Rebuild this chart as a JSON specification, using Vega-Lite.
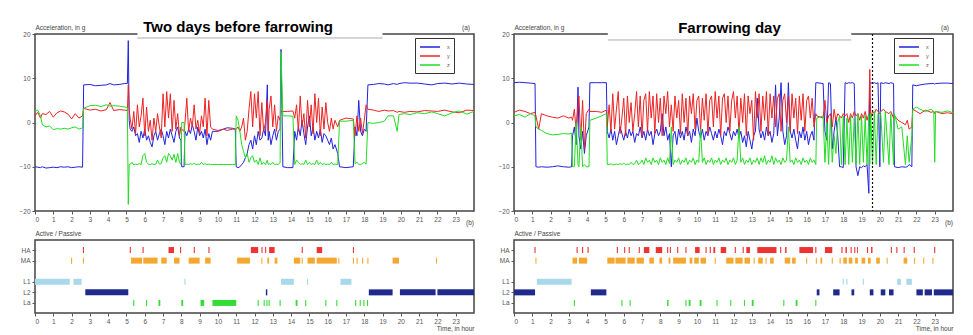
{
"$schema": "https://vega.github.io/schema/vega-lite/v6.json",
"background": "white",
"padding": {"left": 18, "top": 13, "right": 5, "bottom": 2},
"config": {
 "font": "Liberation Sans",
 "view": {"stroke": "#444", "strokeWidth": 1.5},
 "axis": {"labelFontSize": 6.5, "labelColor": "#555", "tickColor": "#555", "tickSize": 3, "domain": false, "grid": false, "labelPadding": 2, "titleFontSize": 6.5, "titleFontWeight": "normal", "titleColor": "#444"},
 "title": {"fontSize": 6.5, "fontWeight": "normal", "color": "#444", "anchor": "end", "offset": 4, "frame": "group"},
 "legend": {"orient": "none", "legendX": 380, "legendY": 4, "strokeColor": "#333", "fillColor": "white", "padding": 4, "symbolType": "M-2.35,0H2.35", "symbolSize": 72, "symbolOffset": 6, "symbolStrokeWidth": 1.5, "labelFontSize": 5.5, "labelColor": "#555", "labelOffset": 12, "rowPadding": 0, "title": null}
},
"datasets": {
 "accL": [
  {"t":0,"x":-10,"y":1.5,"z":2.5},{"t":0.15,"x":-10.1,"y":2.3,"z":2.8},{"t":0.3,"x":-10.2,"y":1.0,"z":1.5},{"t":0.4,"x":-10,"y":2.0,"z":-0.5},
  {"t":0.6,"x":-10.3,"y":1.8,"z":-1.0},{"t":0.8,"x":-10.2,"y":2.5,"z":-0.8},{"t":1.0,"x":-10.1,"y":1.2,"z":-1.6},{"t":1.2,"x":-10.2,"y":2.2,"z":-1.4},
  {"t":1.4,"x":-10,"y":2.6,"z":-1.5},{"t":1.6,"x":-10.1,"y":2.4,"z":-1.3},{"t":1.8,"x":-10,"y":1.9,"z":-1.5},{"t":2.0,"x":-10.2,"y":0.8,"z":-1.2},
  {"t":2.2,"x":-10.1,"y":2.0,"z":-1.0},{"t":2.4,"x":-10,"y":1.0,"z":-1.5},{"t":2.6,"x":-10.1,"y":1.5,"z":-1.2},{"t":2.66,"x":8.5,"y":3.2,"z":3.2},
  {"t":3.0,"x":8.6,"y":2.8,"z":3.8},{"t":3.3,"x":8.3,"y":3.0,"z":3.9},{"t":3.6,"x":8.4,"y":2.6,"z":3.6},{"t":3.9,"x":8.5,"y":2.9,"z":4.0},
  {"t":4.1,"x":8.8,"y":4.5,"z":3.7},{"t":4.3,"x":8.5,"y":2.7,"z":3.8},{"t":4.6,"x":8.6,"y":2.9,"z":3.7},{"t":4.9,"x":8.8,"y":2.8,"z":3.5},
  {"t":5.05,"x":8.8,"y":2.7,"z":3.4},{"t":5.1,"x":18.5,"y":8.5,"z":-18.5},{"t":5.15,"x":0.5,"y":3,"z":-9.5},{"t":5.2,"x":-1.5,"y":1,"z":-9.5},
  {"t":5.3,"x":-2.0,"y":-1.5,"z":-9.0},{"t":5.4,"x":-1.0,"y":2.5,"z":-9.6},{"t":5.5,"x":-3.0,"y":-2.5,"z":-9.4},{"t":5.6,"x":-2.5,"y":4.0,"z":-9.5},
  {"t":5.7,"x":-4.5,"y":-1.0,"z":-9.3},{"t":5.8,"x":-2.0,"y":1.5,"z":-9.5},{"t":5.9,"x":-3.5,"y":5.5,"z":-7.5},{"t":6.0,"x":-1.5,"y":-3.0,"z":-7.0},
  {"t":6.1,"x":-4.0,"y":3.5,"z":-9.0},{"t":6.2,"x":-3.0,"y":-2.0,"z":-9.4},{"t":6.3,"x":-4.5,"y":0.5,"z":-9.5},{"t":6.4,"x":-5.5,"y":-4.0,"z":-9.3},
  {"t":6.5,"x":-3.0,"y":1.0,"z":-9.5},{"t":6.6,"x":-2.0,"y":-2.0,"z":-9.4},{"t":6.7,"x":-4.0,"y":2.0,"z":-8.5},{"t":6.8,"x":-2.5,"y":-1.0,"z":-9.4},
  {"t":6.9,"x":-1.5,"y":-3.5,"z":-9.3},{"t":7.0,"x":-3.0,"y":6.5,"z":-8.0},{"t":7.1,"x":-5.0,"y":-1.0,"z":-7.5},{"t":7.2,"x":-2.0,"y":7.0,"z":-9.0},
  {"t":7.3,"x":-3.5,"y":1.0,"z":-7.0},{"t":7.4,"x":-1.5,"y":6.5,"z":-7.5},{"t":7.5,"x":-3.0,"y":-2.0,"z":-8.5},{"t":7.6,"x":-4.5,"y":5.0,"z":-7.2},
  {"t":7.7,"x":-2.0,"y":-1.5,"z":-9.0},{"t":7.8,"x":-1.0,"y":2.0,"z":-7.0},{"t":7.9,"x":-3.5,"y":-3.0,"z":-9.0},{"t":7.98,"x":-4.0,"y":-1.0,"z":-9.5},
  {"t":8.02,"x":-10.0,"y":-1.5,"z":0.0},{"t":8.15,"x":-10.0,"y":-2.0,"z":0.0},{"t":8.2,"x":-2.0,"y":0.0,"z":-9.5},{"t":8.3,"x":-3.0,"y":5.5,"z":-9.4},
  {"t":8.4,"x":-1.5,"y":-2.0,"z":-9.5},{"t":8.5,"x":-2.5,"y":1.0,"z":-9.3},{"t":8.6,"x":-0.5,"y":-1.0,"z":-9.5},{"t":8.7,"x":-2.0,"y":4.0,"z":-9.2},
  {"t":8.8,"x":-4.0,"y":-1.5,"z":-9.5},{"t":8.9,"x":-1.0,"y":0.5,"z":-9.4},{"t":9.0,"x":-3.0,"y":-2.5,"z":-9.5},{"t":9.1,"x":-2.0,"y":1.5,"z":-9.0},
  {"t":9.2,"x":-3.5,"y":-1.0,"z":-9.5},{"t":9.3,"x":-1.5,"y":5.5,"z":-9.3},{"t":9.4,"x":-5.0,"y":-3.0,"z":-9.5},{"t":9.5,"x":-2.5,"y":5.0,"z":-9.4},
  {"t":9.6,"x":-4.0,"y":-1.0,"z":-9.5},{"t":9.7,"x":-2.0,"y":-1.5,"z":-9.5},{"t":10.0,"x":-2.0,"y":-1.8,"z":-9.5},{"t":10.3,"x":-1.5,"y":-1.5,"z":-9.5},
  {"t":10.5,"x":-1.2,"y":-1.8,"z":-9.5},{"t":10.8,"x":-1.3,"y":-1.5,"z":-9.5},{"t":10.95,"x":-1.5,"y":-1.5,"z":-9.5},{"t":11.0,"x":-10.0,"y":-1.5,"z":1.5},
  {"t":11.1,"x":-10.2,"y":-1.0,"z":0.5},{"t":11.2,"x":-10.0,"y":-2.0,"z":-2.0},{"t":11.3,"x":-9.5,"y":-1.0,"z":-5.0},{"t":11.4,"x":-9.0,"y":1.0,"z":-6.5},
  {"t":11.5,"x":-8.0,"y":-4.0,"z":-8.0},{"t":11.6,"x":-7.0,"y":-2.0,"z":-7.0},{"t":11.7,"x":-5.0,"y":3.0,"z":-9.0},{"t":11.8,"x":-4.0,"y":7.0,"z":-8.0},
  {"t":11.9,"x":-6.0,"y":-1.0,"z":-7.5},{"t":12.0,"x":-3.0,"y":6.5,"z":-9.0},{"t":12.1,"x":-5.0,"y":1.0,"z":-8.5},{"t":12.2,"x":-2.0,"y":7.0,"z":-9.5},
  {"t":12.3,"x":-4.0,"y":-3.0,"z":-8.0},{"t":12.4,"x":-3.5,"y":4.5,"z":-9.5},{"t":12.5,"x":-1.5,"y":-2.0,"z":-9.0},{"t":12.6,"x":-3.0,"y":0.0,"z":-9.5},
  {"t":12.7,"x":8.5,"y":5.0,"z":-8.5},{"t":12.75,"x":-4.0,"y":-2.0,"z":-9.5},{"t":12.8,"x":-2.0,"y":3.0,"z":-9.3},{"t":12.9,"x":-5.0,"y":6.0,"z":-9.5},
  {"t":13.0,"x":-3.0,"y":-1.0,"z":-9.0},{"t":13.1,"x":-1.5,"y":4.0,"z":-9.5},{"t":13.2,"x":-4.0,"y":-2.0,"z":-9.4},{"t":13.3,"x":-2.0,"y":1.5,"z":-9.5},
  {"t":13.4,"x":-1.5,"y":0.5,"z":-9.0},{"t":13.45,"x":16.5,"y":2.5,"z":16.0},{"t":13.55,"x":-10.0,"y":2.5,"z":1.5},{"t":13.8,"x":-10.2,"y":2.5,"z":1.5},
  {"t":14.1,"x":-10.2,"y":2.6,"z":1.4},{"t":14.2,"x":-2.0,"y":1.0,"z":-9.5},{"t":14.3,"x":-4.0,"y":4.0,"z":-8.5},{"t":14.4,"x":-1.0,"y":-2.0,"z":-9.0},
  {"t":14.5,"x":-3.0,"y":6.0,"z":-9.5},{"t":14.6,"x":0.5,"y":-1.0,"z":-9.3},{"t":14.7,"x":-2.5,"y":2.0,"z":-9.5},{"t":14.8,"x":-5.0,"y":-3.5,"z":-8.5},
  {"t":14.9,"x":-1.0,"y":5.0,"z":-9.5},{"t":15.0,"x":1.5,"y":-1.0,"z":-9.0},{"t":15.1,"x":-3.0,"y":4.0,"z":-9.5},{"t":15.2,"x":-1.0,"y":-2.5,"z":-9.3},
  {"t":15.3,"x":-4.0,"y":6.5,"z":-9.5},{"t":15.4,"x":-2.0,"y":0.0,"z":-8.5},{"t":15.5,"x":-3.5,"y":5.5,"z":-9.5},{"t":15.6,"x":-1.5,"y":-3.0,"z":-9.0},
  {"t":15.7,"x":-4.5,"y":3.5,"z":-9.5},{"t":15.8,"x":-2.5,"y":-1.5,"z":-9.3},{"t":15.9,"x":-3.0,"y":4.5,"z":-9.5},{"t":16.0,"x":-4.0,"y":0.0,"z":-9.4},
  {"t":16.1,"x":-5.0,"y":-2.0,"z":-9.5},{"t":16.2,"x":-3.5,"y":1.0,"z":-9.0},{"t":16.3,"x":-6.0,"y":-1.5,"z":-9.5},{"t":16.4,"x":-5.0,"y":0.5,"z":-9.4},
  {"t":16.55,"x":-7.0,"y":-1.0,"z":-9.5},{"t":16.65,"x":-10.0,"y":0.5,"z":0.3},{"t":17.0,"x":-10.2,"y":1.0,"z":0.3},{"t":17.4,"x":-10.0,"y":0.8,"z":0.5},
  {"t":17.5,"x":-1.0,"y":-3.0,"z":-9.3},{"t":17.6,"x":-3.0,"y":1.5,"z":-9.0},{"t":17.7,"x":5.0,"y":-2.0,"z":-9.4},{"t":17.8,"x":-2.0,"y":1.0,"z":-9.5},
  {"t":17.9,"x":-3.0,"y":-2.5,"z":-9.3},{"t":18.0,"x":-1.5,"y":0.5,"z":-9.0},{"t":18.1,"x":-2.0,"y":4.0,"z":-9.4},{"t":18.2,"x":8.5,"y":3.0,"z":0.0},
  {"t":18.5,"x":8.6,"y":2.8,"z":-0.2},{"t":18.8,"x":8.8,"y":2.5,"z":0.0},{"t":19.1,"x":8.7,"y":2.8,"z":0.3},{"t":19.3,"x":8.5,"y":2.6,"z":1.5},
  {"t":19.6,"x":8.8,"y":2.7,"z":1.5},{"t":19.8,"x":8.6,"y":2.3,"z":-2.0},{"t":19.9,"x":8.8,"y":2.5,"z":1.8},{"t":20.2,"x":9.0,"y":2.3,"z":2.0},
  {"t":20.5,"x":8.9,"y":2.5,"z":1.8},{"t":20.9,"x":8.9,"y":2.4,"z":2.2},{"t":21.3,"x":8.7,"y":2.7,"z":2.0},{"t":21.7,"x":8.5,"y":2.6,"z":2.4},
  {"t":22.0,"x":8.8,"y":2.5,"z":2.0},{"t":22.4,"x":8.9,"y":2.8,"z":1.5},{"t":22.8,"x":8.7,"y":2.4,"z":2.2},{"t":23.2,"x":8.9,"y":2.2,"z":2.6},
  {"t":23.6,"x":8.7,"y":2.8,"z":1.9},{"t":24.0,"x":8.6,"y":2.7,"z":2.5}
 ],
 "accR": [
  {"t":0,"x":9.0,"y":2.3,"z":1.5},{"t":0.3,"x":9.1,"y":2.8,"z":1.8},{"t":0.6,"x":9.0,"y":2.5,"z":1.2},{"t":0.9,"x":8.9,"y":2.0,"z":2.0},
  {"t":1.15,"x":8.8,"y":2.3,"z":1.5},{"t":1.2,"x":-10.0,"y":1.5,"z":-1.0},{"t":1.35,"x":-10.1,"y":-1.5,"z":-1.5},{"t":1.5,"x":-10.0,"y":2.0,"z":-1.8},
  {"t":1.8,"x":-10.1,"y":1.5,"z":-2.5},{"t":2.1,"x":-10.0,"y":1.2,"z":-2.8},{"t":2.4,"x":-9.8,"y":1.0,"z":-2.7},{"t":2.7,"x":-10.0,"y":1.5,"z":-2.5},
  {"t":3.0,"x":-10.1,"y":1.0,"z":-2.6},{"t":3.15,"x":-10.0,"y":1.2,"z":-2.4},{"t":3.2,"x":-3.0,"y":0.5,"z":-10.0},{"t":3.3,"x":-1.0,"y":3.0,"z":-10.0},
  {"t":3.4,"x":-5.0,"y":-2.0,"z":0.0},{"t":3.5,"x":8.0,"y":4.0,"z":-9.5},{"t":3.55,"x":-3.0,"y":6.0,"z":-10.0},{"t":3.65,"x":-6.0,"y":-4.0,"z":-1.0},
  {"t":3.75,"x":-2.0,"y":5.0,"z":-10.0},{"t":3.85,"x":-7.0,"y":-6.0,"z":-9.5},{"t":3.95,"x":-3.0,"y":2.0,"z":-10.0},{"t":4.1,"x":-1.0,"y":3.0,"z":-10.0},
  {"t":4.15,"x":9.0,"y":2.5,"z":0.5},{"t":4.5,"x":9.0,"y":2.5,"z":1.0},{"t":4.8,"x":9.0,"y":2.3,"z":1.5},{"t":5.05,"x":9.0,"y":2.8,"z":2.0},
  {"t":5.1,"x":-2.0,"y":-1.0,"z":-9.5},{"t":5.2,"x":-3.5,"y":4.0,"z":-9.5},{"t":5.3,"x":-1.5,"y":-2.0,"z":-9.3},{"t":5.4,"x":-4.0,"y":6.5,"z":-9.6},
  {"t":5.5,"x":-2.0,"y":-1.5,"z":-9.5},{"t":5.6,"x":-5.0,"y":3.0,"z":-9.4},{"t":5.7,"x":-3.0,"y":7.0,"z":-9.5},{"t":5.8,"x":-1.0,"y":-2.5,"z":-9.3},
  {"t":5.9,"x":-2.5,"y":1.0,"z":-9.5},{"t":6.0,"x":-4.0,"y":5.5,"z":-9.2},{"t":6.1,"x":-2.0,"y":-3.0,"z":-9.5},{"t":6.2,"x":-3.5,"y":6.0,"z":-9.4},
  {"t":6.3,"x":-1.5,"y":0.0,"z":-9.5},{"t":6.4,"x":-3.0,"y":4.5,"z":-9.0},{"t":6.5,"x":-2.0,"y":-2.0,"z":-9.5},{"t":6.6,"x":-4.5,"y":2.0,"z":-9.3},
  {"t":6.7,"x":-2.5,"y":7.0,"z":-8.5},{"t":6.8,"x":-3.0,"y":-1.0,"z":-9.5},{"t":6.9,"x":-1.0,"y":6.0,"z":-9.2},{"t":7.0,"x":-3.5,"y":-3.0,"z":-8.5},
  {"t":7.1,"x":-2.0,"y":5.0,"z":-9.5},{"t":7.2,"x":-4.0,"y":6.5,"z":-8.0},{"t":7.3,"x":-1.5,"y":-2.0,"z":-9.0},{"t":7.4,"x":-3.0,"y":7.0,"z":-8.5},
  {"t":7.5,"x":-2.0,"y":1.0,"z":-9.5},{"t":7.6,"x":-5.0,"y":6.0,"z":-8.0},{"t":7.7,"x":-2.5,"y":-2.5,"z":-9.0},{"t":7.8,"x":-1.5,"y":6.5,"z":-8.5},
  {"t":7.9,"x":-3.0,"y":0.0,"z":-9.5},{"t":8.0,"x":-2.0,"y":5.5,"z":-8.0},{"t":8.1,"x":2.0,"y":-3.0,"z":-9.0},{"t":8.2,"x":-3.0,"y":6.0,"z":-8.5},
  {"t":8.3,"x":-1.0,"y":2.0,"z":-9.5},{"t":8.4,"x":-4.0,"y":7.0,"z":-8.0},{"t":8.5,"x":-2.5,"y":-1.0,"z":-9.3},{"t":8.6,"x":-10.0,"y":4.0,"z":-1.0},
  {"t":8.7,"x":-3.0,"y":-2.0,"z":-9.5},{"t":8.8,"x":-2.0,"y":6.0,"z":-8.5},{"t":8.9,"x":-5.0,"y":1.0,"z":-9.0},{"t":9.0,"x":-1.5,"y":5.0,"z":-8.0},
  {"t":9.1,"x":-3.5,"y":-2.5,"z":-9.5},{"t":9.2,"x":-2.0,"y":6.5,"z":-8.5},{"t":9.3,"x":-4.0,"y":0.0,"z":-9.0},{"t":9.4,"x":-1.0,"y":5.5,"z":-8.0},
  {"t":9.5,"x":-3.0,"y":-3.0,"z":-9.5},{"t":9.6,"x":-2.0,"y":6.0,"z":-8.5},{"t":9.7,"x":-4.5,"y":2.0,"z":-9.0},{"t":9.8,"x":-1.5,"y":6.5,"z":-8.0},
  {"t":9.9,"x":-3.0,"y":-1.5,"z":-9.5},{"t":10.0,"x":1.0,"y":5.0,"z":-8.5},{"t":10.1,"x":-2.0,"y":6.0,"z":-9.0},{"t":10.2,"x":-3.5,"y":-2.0,"z":-1.5},
  {"t":10.3,"x":-1.5,"y":5.5,"z":-9.0},{"t":10.4,"x":-4.0,"y":0.5,"z":-8.0},{"t":10.5,"x":-2.0,"y":6.5,"z":-9.5},{"t":10.6,"x":-3.0,"y":-2.5,"z":-8.5},
  {"t":10.7,"x":-1.0,"y":5.0,"z":-9.0},{"t":10.8,"x":-2.5,"y":6.0,"z":-8.0},{"t":10.9,"x":-4.0,"y":-1.0,"z":-9.5},{"t":11.0,"x":-2.0,"y":7.0,"z":-8.5},
  {"t":11.1,"x":-3.5,"y":1.0,"z":-9.0},{"t":11.2,"x":-1.5,"y":6.0,"z":-8.0},{"t":11.3,"x":-3.0,"y":-3.0,"z":-9.5},{"t":11.4,"x":-5.0,"y":5.5,"z":-8.5},
  {"t":11.5,"x":-2.0,"y":6.5,"z":-9.0},{"t":11.6,"x":-3.0,"y":0.0,"z":-8.0},{"t":11.7,"x":-1.0,"y":6.0,"z":-9.5},{"t":11.8,"x":-2.5,"y":-2.0,"z":-8.5},
  {"t":11.9,"x":-4.0,"y":5.0,"z":-9.0},{"t":12.0,"x":-2.0,"y":7.0,"z":-8.0},{"t":12.1,"x":-3.0,"y":1.0,"z":-9.5},{"t":12.2,"x":-1.5,"y":6.0,"z":-8.5},
  {"t":12.3,"x":-3.5,"y":-2.5,"z":-1.0},{"t":12.4,"x":-2.0,"y":5.5,"z":-9.0},{"t":12.5,"x":-4.5,"y":0.0,"z":-8.0},{"t":12.6,"x":-3.0,"y":6.5,"z":-9.5},
  {"t":12.7,"x":-5.5,"y":-3.0,"z":-8.5},{"t":12.8,"x":-2.0,"y":6.0,"z":-9.0},{"t":12.9,"x":-4.0,"y":2.0,"z":-8.0},{"t":13.0,"x":-6.0,"y":5.0,"z":-9.5},
  {"t":13.1,"x":-3.0,"y":-4.0,"z":-8.5},{"t":13.2,"x":-2.0,"y":7.0,"z":-9.0},{"t":13.3,"x":5.5,"y":1.0,"z":-8.0},{"t":13.4,"x":-1.5,"y":6.5,"z":-9.5},
  {"t":13.5,"x":-3.5,"y":-2.0,"z":-8.0},{"t":13.6,"x":-2.0,"y":6.0,"z":-9.0},{"t":13.7,"x":-4.0,"y":0.5,"z":-7.5},{"t":13.8,"x":-1.0,"y":7.0,"z":-9.5},
  {"t":13.9,"x":-3.0,"y":-3.0,"z":-8.5},{"t":14.0,"x":-2.0,"y":6.5,"z":-9.0},{"t":14.1,"x":-4.5,"y":1.0,"z":-7.5},{"t":14.2,"x":-2.5,"y":6.0,"z":-9.5},
  {"t":14.3,"x":8.5,"y":-1.0,"z":-8.0},{"t":14.4,"x":-3.0,"y":5.5,"z":-9.0},{"t":14.5,"x":1.0,"y":6.5,"z":-8.5},{"t":14.6,"x":9.0,"y":-2.0,"z":-9.5},
  {"t":14.7,"x":-2.0,"y":5.0,"z":-8.0},{"t":14.8,"x":-5.0,"y":6.5,"z":-9.0},{"t":14.9,"x":-3.0,"y":0.0,"z":-8.5},{"t":15.0,"x":9.0,"y":6.0,"z":-1.0},
  {"t":15.1,"x":-2.0,"y":-2.0,"z":-9.0},{"t":15.2,"x":-3.5,"y":6.5,"z":-8.5},{"t":15.3,"x":-1.5,"y":1.0,"z":-9.5},{"t":15.4,"x":-4.0,"y":5.5,"z":-8.0},
  {"t":15.5,"x":-6.0,"y":-2.5,"z":-9.0},{"t":15.6,"x":-2.0,"y":6.0,"z":-8.5},{"t":15.7,"x":-3.5,"y":0.5,"z":-9.5},{"t":15.8,"x":-1.0,"y":6.5,"z":-8.0},
  {"t":15.9,"x":-4.0,"y":-2.0,"z":-9.0},{"t":16.0,"x":-2.0,"y":5.0,"z":-8.5},{"t":16.1,"x":-5.0,"y":6.0,"z":-9.5},{"t":16.2,"x":-3.0,"y":1.0,"z":-8.0},
  {"t":16.3,"x":-2.0,"y":5.5,"z":-9.0},{"t":16.4,"x":-4.0,"y":-1.0,"z":-8.5},{"t":16.5,"x":9.0,"y":2.0,"z":-9.5},{"t":16.55,"x":9.0,"y":1.5,"z":1.0},
  {"t":16.9,"x":8.8,"y":1.0,"z":1.5},{"t":17.0,"x":-2.0,"y":5.0,"z":-9.0},{"t":17.1,"x":-4.0,"y":0.0,"z":0.0},{"t":17.2,"x":9.0,"y":1.5,"z":-9.5},
  {"t":17.3,"x":8.8,"y":2.0,"z":1.0},{"t":17.4,"x":-6.0,"y":-1.0,"z":-9.0},{"t":17.5,"x":-2.0,"y":3.0,"z":-3.0},{"t":17.6,"x":1.0,"y":0.5,"z":-7.0},
  {"t":17.7,"x":-3.0,"y":2.0,"z":0.0},{"t":17.8,"x":-10.0,"y":1.5,"z":1.5},{"t":17.9,"x":-10.0,"y":1.0,"z":-9.5},{"t":18.0,"x":-10.2,"y":2.0,"z":1.5},
  {"t":18.1,"x":9.0,"y":1.5,"z":-9.5},{"t":18.2,"x":8.8,"y":2.0,"z":1.0},{"t":18.3,"x":9.0,"y":0.0,"z":-9.5},{"t":18.4,"x":8.9,"y":2.0,"z":1.5},
  {"t":18.5,"x":9.0,"y":1.0,"z":-9.0},{"t":18.6,"x":8.8,"y":2.5,"z":1.0},{"t":18.7,"x":-10.0,"y":1.5,"z":-9.5},{"t":18.8,"x":-12.0,"y":2.0,"z":2.0},
  {"t":18.9,"x":-10.0,"y":0.5,"z":-9.5},{"t":19.0,"x":-10.2,"y":2.0,"z":1.5},{"t":19.1,"x":-9.8,"y":1.0,"z":-9.0},{"t":19.2,"x":-10.0,"y":2.5,"z":1.5},
  {"t":19.3,"x":-9.5,"y":0.5,"z":-9.5},{"t":19.4,"x":-16.0,"y":2.0,"z":2.0},{"t":19.45,"x":9.0,"y":12.0,"z":-9.5},{"t":19.5,"x":9.0,"y":1.0,"z":2.0},
  {"t":19.6,"x":8.8,"y":2.5,"z":-9.5},{"t":19.7,"x":9.0,"y":2.0,"z":2.5},{"t":19.8,"x":8.8,"y":3.0,"z":-9.5},{"t":19.9,"x":9.0,"y":2.5,"z":2.0},
  {"t":20.0,"x":-10.0,"y":2.0,"z":2.5},{"t":20.05,"x":9.0,"y":2.5,"z":2.0},{"t":20.2,"x":8.8,"y":3.0,"z":-9.0},{"t":20.3,"x":9.0,"y":2.5,"z":2.5},
  {"t":20.5,"x":8.8,"y":2.0,"z":-9.5},{"t":20.6,"x":9.0,"y":2.5,"z":2.0},{"t":20.75,"x":8.8,"y":1.0,"z":-9.5},{"t":20.8,"x":-10.0,"y":1.5,"z":2.0},
  {"t":21.0,"x":-10.2,"y":0.5,"z":-1.5},{"t":21.2,"x":-10.0,"y":0.0,"z":-1.0},{"t":21.4,"x":-10.1,"y":-0.5,"z":-9.5},{"t":21.5,"x":-10.0,"y":0.5,"z":-3.0},
  {"t":21.6,"x":-9.5,"y":-1.5,"z":-9.0},{"t":21.75,"x":-10.0,"y":-1.0,"z":-3.0},{"t":21.8,"x":8.5,"y":3.0,"z":3.0},{"t":22.0,"x":8.3,"y":2.5,"z":3.5},
  {"t":22.2,"x":8.5,"y":2.0,"z":3.0},{"t":22.5,"x":8.7,"y":2.8,"z":2.5},{"t":22.8,"x":8.8,"y":2.3,"z":3.0},{"t":22.95,"x":8.8,"y":2.5,"z":2.5},
  {"t":23.0,"x":8.7,"y":2.0,"z":-9.0},{"t":23.05,"x":8.8,"y":2.5,"z":2.5},{"t":23.4,"x":8.9,"y":2.0,"z":2.3},{"t":23.7,"x":8.9,"y":2.2,"z":2.6},
  {"t":24.0,"x":8.8,"y":2.0,"z":2.2}
 ],
 "evL": [
  {"r":"HA","a":2.62,"b":2.68},{"r":"HA","a":5.18,"b":5.24},{"r":"HA","a":5.88,"b":5.94},{"r":"HA","a":7.3,"b":7.6},{"r":"HA","a":7.93,"b":7.99},
  {"r":"HA","a":8.68,"b":8.74},{"r":"HA","a":9.48,"b":9.54},{"r":"HA","a":11.8,"b":12.2},{"r":"HA","a":12.38,"b":12.44},{"r":"HA","a":12.58,"b":12.64},
  {"r":"HA","a":12.8,"b":13.1},{"r":"HA","a":14.58,"b":14.64},{"r":"HA","a":15.4,"b":15.7},{"r":"HA","a":17.38,"b":17.44},
  {"r":"MA","a":1.97,"b":2.03},{"r":"MA","a":2.62,"b":2.68},{"r":"MA","a":5.25,"b":5.85},{"r":"MA","a":5.92,"b":6.7},{"r":"MA","a":6.9,"b":7.2},
  {"r":"MA","a":7.6,"b":7.9},{"r":"MA","a":8.4,"b":9.0},{"r":"MA","a":9.3,"b":9.6},{"r":"MA","a":11.05,"b":11.75},{"r":"MA","a":12.37,"b":12.43},
  {"r":"MA","a":12.7,"b":12.8},{"r":"MA","a":13.1,"b":13.25},{"r":"MA","a":14.15,"b":14.5},{"r":"MA","a":14.58,"b":14.64},{"r":"MA","a":14.9,"b":15.3},
  {"r":"MA","a":15.4,"b":16.5},{"r":"MA","a":16.58,"b":16.64},{"r":"MA","a":17.38,"b":17.44},{"r":"MA","a":17.58,"b":17.64},{"r":"MA","a":17.88,"b":17.94},
  {"r":"MA","a":18.17,"b":18.23},{"r":"MA","a":19.55,"b":19.9},{"r":"MA","a":21.92,"b":21.98},
  {"r":"L1","a":0,"b":1.9},{"r":"L1","a":2.1,"b":2.55},{"r":"L1","a":8.17,"b":8.23},{"r":"L1","a":13.45,"b":14.15},{"r":"L1","a":14.87,"b":14.93},{"r":"L1","a":16.7,"b":17.3},
  {"r":"L2","a":2.75,"b":5.1},{"r":"L2","a":12.62,"b":12.7},{"r":"L2","a":18.25,"b":19.55},{"r":"L2","a":19.95,"b":21.9},{"r":"L2","a":22.0,"b":24},
  {"r":"La","a":5.37,"b":5.43},{"r":"La","a":6.07,"b":6.13},{"r":"La","a":6.75,"b":6.85},{"r":"La","a":8.0,"b":8.1},{"r":"La","a":9.05,"b":9.25},
  {"r":"La","a":9.7,"b":11.0},{"r":"La","a":12.17,"b":12.23},{"r":"La","a":12.5,"b":12.56},{"r":"La","a":12.65,"b":12.71},{"r":"La","a":12.77,"b":12.83},
  {"r":"La","a":13.37,"b":13.43},{"r":"La","a":14.25,"b":14.35},{"r":"La","a":14.77,"b":14.83},{"r":"La","a":15.87,"b":15.93},{"r":"La","a":16.47,"b":16.53},
  {"r":"La","a":17.5,"b":17.56},{"r":"La","a":17.75,"b":17.81},{"r":"La","a":17.95,"b":18.01},{"r":"La","a":18.15,"b":18.21}
 ],
 "evR": [
  {"r":"HA","a":1.12,"b":1.18},{"r":"HA","a":3.42,"b":3.48},{"r":"HA","a":3.72,"b":3.78},{"r":"HA","a":4.02,"b":4.08},{"r":"HA","a":5.62,"b":5.68},
  {"r":"HA","a":6.02,"b":6.08},{"r":"HA","a":6.27,"b":6.33},{"r":"HA","a":6.82,"b":6.88},{"r":"HA","a":7.1,"b":7.4},{"r":"HA","a":7.75,"b":8.1},
  {"r":"HA","a":8.37,"b":8.43},{"r":"HA","a":8.52,"b":8.58},{"r":"HA","a":8.92,"b":8.98},{"r":"HA","a":9.37,"b":9.43},{"r":"HA","a":9.9,"b":10.15},
  {"r":"HA","a":10.47,"b":10.53},{"r":"HA","a":10.7,"b":10.76},{"r":"HA","a":10.9,"b":11.0},{"r":"HA","a":11.3,"b":11.6},{"r":"HA","a":12.07,"b":12.13},
  {"r":"HA","a":12.5,"b":12.56},{"r":"HA","a":12.7,"b":12.9},{"r":"HA","a":13.3,"b":14.35},{"r":"HA","a":14.55,"b":14.61},{"r":"HA","a":14.82,"b":14.9},
  {"r":"HA","a":15.6,"b":16.35},{"r":"HA","a":16.47,"b":16.53},{"r":"HA","a":17.0,"b":17.4},{"r":"HA","a":17.9,"b":17.96},{"r":"HA","a":18.12,"b":18.2},
  {"r":"HA","a":18.4,"b":18.46},{"r":"HA","a":18.6,"b":18.66},{"r":"HA","a":18.75,"b":18.8},{"r":"HA","a":19.3,"b":19.36},{"r":"HA","a":19.52,"b":19.6},
  {"r":"HA","a":20.6,"b":20.66},{"r":"HA","a":20.9,"b":20.96},{"r":"HA","a":21.3,"b":21.36},{"r":"HA","a":21.85,"b":21.91},{"r":"HA","a":22.97,"b":23.03},
  {"r":"MA","a":1.17,"b":1.23},{"r":"MA","a":3.2,"b":3.45},{"r":"MA","a":3.55,"b":4.0},{"r":"MA","a":5.1,"b":5.5},{"r":"MA","a":5.55,"b":6.1},
  {"r":"MA","a":6.2,"b":6.6},{"r":"MA","a":6.7,"b":7.1},{"r":"MA","a":7.4,"b":7.65},{"r":"MA","a":7.95,"b":8.1},{"r":"MA","a":8.45,"b":8.55},
  {"r":"MA","a":8.7,"b":9.4},{"r":"MA","a":9.6,"b":9.75},{"r":"MA","a":9.85,"b":10.1},{"r":"MA","a":10.2,"b":10.5},{"r":"MA","a":10.97,"b":11.03},
  {"r":"MA","a":11.6,"b":12.0},{"r":"MA","a":12.1,"b":12.5},{"r":"MA","a":12.6,"b":12.9},{"r":"MA","a":13.1,"b":13.16},{"r":"MA","a":13.35,"b":13.6},
  {"r":"MA","a":13.75,"b":13.81},{"r":"MA","a":14.0,"b":14.2},{"r":"MA","a":14.8,"b":15.1},{"r":"MA","a":15.2,"b":15.4},{"r":"MA","a":15.97,"b":16.03},
  {"r":"MA","a":16.5,"b":16.56},{"r":"MA","a":16.75,"b":16.85},{"r":"MA","a":17.37,"b":17.43},{"r":"MA","a":17.8,"b":17.86},{"r":"MA","a":18.0,"b":18.2},
  {"r":"MA","a":18.3,"b":18.5},{"r":"MA","a":18.65,"b":18.8},{"r":"MA","a":19.0,"b":19.2},{"r":"MA","a":19.35,"b":19.5},{"r":"MA","a":19.8,"b":20.0},
  {"r":"MA","a":20.37,"b":20.43},{"r":"MA","a":21.3,"b":21.5},{"r":"MA","a":21.87,"b":21.93},{"r":"MA","a":22.37,"b":22.43},{"r":"MA","a":22.87,"b":22.93},
  {"r":"L1","a":1.25,"b":3.15},{"r":"L1","a":17.97,"b":18.03},{"r":"L1","a":18.17,"b":18.23},{"r":"L1","a":19.07,"b":19.13},{"r":"L1","a":20.95,"b":21.15},{"r":"L1","a":21.45,"b":21.75},
  {"r":"L2","a":0,"b":1.15},{"r":"L2","a":4.2,"b":5.05},{"r":"L2","a":16.55,"b":16.7},{"r":"L2","a":17.45,"b":17.8},{"r":"L2","a":18.45,"b":18.6},
  {"r":"L2","a":19.45,"b":19.65},{"r":"L2","a":20.05,"b":20.3},{"r":"L2","a":20.5,"b":20.75},{"r":"L2","a":22.0,"b":22.35},{"r":"L2","a":22.45,"b":22.85},{"r":"L2","a":22.95,"b":24},
  {"r":"La","a":3.27,"b":3.33},{"r":"La","a":5.87,"b":5.93},{"r":"La","a":6.32,"b":6.38},{"r":"La","a":8.37,"b":8.45},{"r":"La","a":9.37,"b":9.43},
  {"r":"La","a":9.55,"b":9.65},{"r":"La","a":10.15,"b":10.25},{"r":"La","a":11.07,"b":11.13},{"r":"La","a":11.82,"b":11.88},{"r":"La","a":12.57,"b":12.63},
  {"r":"La","a":13.0,"b":13.1},{"r":"La","a":14.72,"b":14.78},{"r":"La","a":15.4,"b":15.5},{"r":"La","a":16.47,"b":16.53}
 ],
 "boxL": [{"a":5.6,"b":19.0,"lo":19.1,"hi":24.5,"tx":5.92,"ty":21.6,"txt":"Two days before farrowing"}],
 "boxR": [{"a":5.13,"b":18.44,"lo":18.65,"hi":24.1,"tx":11.78,"ty":21.3,"txt":"Farrowing day"}],
 "tagA": [{"tx":24,"ty":20,"txt":"(a)"}],
 "mark": [{"t":19.6}]
},
"columns": 2,
"spacing": {"row": 29, "column": 40},
"bounds": "flush",
"resolve": {"scale": {"color": "independent"}, "legend": {"color": "independent"}},
"concat": [
 {
  "width": 439, "height": 177,
  "layer": [
   {"data": {"name": "accL"}, "transform": [{"fold": ["x","y","z"], "as": ["s","v"]}],
    "mark": {"type": "line", "strokeWidth": 1, "clip": true},
    "encoding": {
     "x": {"field": "t", "type": "quantitative", "scale": {"domain": [0,24], "nice": false}, "axis": {"values": [0,1,2,3,4,5,6,7,8,9,10,11,12,13,14,15,16,17,18,19,20,21,22,23], "title": null, "labelOverlap": false}},
     "y": {"field": "v", "type": "quantitative", "scale": {"domain": [-20,20], "nice": false}, "axis": {"values": [-20,-10,0,10,20], "title": "Acceleration, in g", "titleAngle": 0, "titleX": 0, "titleY": -4, "titleAlign": "left", "titleBaseline": "bottom"}},
     "color": {"field": "s", "type": "nominal", "scale": {"domain": ["x","y","z"], "range": ["#2222dd","#ee2222","#22dd22"]}}
    }},
   {"data": {"name": "boxL"}, "mark": {"type": "rect", "fill": "white", "clip": false},
    "encoding": {
     "x": {"field": "a", "type": "quantitative", "axis": {"values": [0,1,2,3,4,5,6,7,8,9,10,11,12,13,14,15,16,17,18,19,20,21,22,23], "title": null, "labelOverlap": false}}, "x2": {"field": "b"},
     "y": {"field": "lo", "type": "quantitative", "axis": {"values": [-20,-10,0,10,20], "title": "Acceleration, in g", "titleAngle": 0, "titleX": 0, "titleY": -4, "titleAlign": "left", "titleBaseline": "bottom"}}, "y2": {"field": "hi"}}},
   {"data": {"name": "boxL"}, "mark": {"type": "rule", "color": "#aaa", "strokeWidth": 1, "clip": false},
    "encoding": {
     "x": {"field": "a", "type": "quantitative", "axis": {"values": [0,1,2,3,4,5,6,7,8,9,10,11,12,13,14,15,16,17,18,19,20,21,22,23], "title": null, "labelOverlap": false}}, "x2": {"field": "b"},
     "y": {"field": "lo", "type": "quantitative", "axis": {"values": [-20,-10,0,10,20], "title": "Acceleration, in g", "titleAngle": 0, "titleX": 0, "titleY": -4, "titleAlign": "left", "titleBaseline": "bottom"}}}},
   {"data": {"name": "boxL"}, "mark": {"type": "text", "fontSize": 15, "fontWeight": "bold", "color": "black", "align": "left", "baseline": "middle", "font": "Liberation Sans", "clip": false},
    "encoding": {
     "x": {"field": "tx", "type": "quantitative", "axis": {"values": [0,1,2,3,4,5,6,7,8,9,10,11,12,13,14,15,16,17,18,19,20,21,22,23], "title": null, "labelOverlap": false}},
     "y": {"field": "ty", "type": "quantitative", "axis": {"values": [-20,-10,0,10,20], "title": "Acceleration, in g", "titleAngle": 0, "titleX": 0, "titleY": -4, "titleAlign": "left", "titleBaseline": "bottom"}},
     "text": {"field": "txt"}}},
   {"data": {"name": "tagA"}, "mark": {"type": "text", "fontSize": 6.5, "color": "#444", "align": "right", "baseline": "bottom", "dx": -4, "dy": -3, "clip": false},
    "encoding": {
     "x": {"field": "tx", "type": "quantitative", "axis": {"values": [0,1,2,3,4,5,6,7,8,9,10,11,12,13,14,15,16,17,18,19,20,21,22,23], "title": null, "labelOverlap": false}},
     "y": {"field": "ty", "type": "quantitative", "axis": {"values": [-20,-10,0,10,20], "title": "Acceleration, in g", "titleAngle": 0, "titleX": 0, "titleY": -4, "titleAlign": "left", "titleBaseline": "bottom"}},
     "text": {"field": "txt"}}}
  ]
 },
 {
  "width": 439, "height": 177,
  "layer": [
   {"data": {"name": "accR"}, "transform": [{"fold": ["x","y","z"], "as": ["s","v"]}],
    "mark": {"type": "line", "strokeWidth": 1, "clip": true},
    "encoding": {
     "x": {"field": "t", "type": "quantitative", "scale": {"domain": [0,24], "nice": false}, "axis": {"values": [0,1,2,3,4,5,6,7,8,9,10,11,12,13,14,15,16,17,18,19,20,21,22,23], "title": null, "labelOverlap": false}},
     "y": {"field": "v", "type": "quantitative", "scale": {"domain": [-20,20], "nice": false}, "axis": {"values": [-20,-10,0,10,20], "title": "Acceleration, in g", "titleAngle": 0, "titleX": 0, "titleY": -4, "titleAlign": "left", "titleBaseline": "bottom"}},
     "color": {"field": "s", "type": "nominal", "scale": {"domain": ["x","y","z"], "range": ["#2222dd","#ee2222","#22dd22"]}}
    }},
   {"data": {"name": "mark"}, "mark": {"type": "rule", "color": "#111", "strokeWidth": 1.2, "strokeDash": [2,2]},
    "encoding": {"x": {"field": "t", "type": "quantitative", "axis": {"values": [0,1,2,3,4,5,6,7,8,9,10,11,12,13,14,15,16,17,18,19,20,21,22,23], "title": null, "labelOverlap": false}}}},
   {"data": {"name": "boxR"}, "mark": {"type": "rect", "fill": "white", "clip": false},
    "encoding": {
     "x": {"field": "a", "type": "quantitative", "axis": {"values": [0,1,2,3,4,5,6,7,8,9,10,11,12,13,14,15,16,17,18,19,20,21,22,23], "title": null, "labelOverlap": false}}, "x2": {"field": "b"},
     "y": {"field": "lo", "type": "quantitative", "axis": {"values": [-20,-10,0,10,20], "title": "Acceleration, in g", "titleAngle": 0, "titleX": 0, "titleY": -4, "titleAlign": "left", "titleBaseline": "bottom"}}, "y2": {"field": "hi"}}},
   {"data": {"name": "boxR"}, "mark": {"type": "rule", "color": "#aaa", "strokeWidth": 1, "clip": false},
    "encoding": {
     "x": {"field": "a", "type": "quantitative", "axis": {"values": [0,1,2,3,4,5,6,7,8,9,10,11,12,13,14,15,16,17,18,19,20,21,22,23], "title": null, "labelOverlap": false}}, "x2": {"field": "b"},
     "y": {"field": "lo", "type": "quantitative", "axis": {"values": [-20,-10,0,10,20], "title": "Acceleration, in g", "titleAngle": 0, "titleX": 0, "titleY": -4, "titleAlign": "left", "titleBaseline": "bottom"}}}},
   {"data": {"name": "boxR"}, "mark": {"type": "text", "fontSize": 15, "fontWeight": "bold", "color": "black", "align": "center", "baseline": "middle", "font": "Liberation Sans", "clip": false},
    "encoding": {
     "x": {"field": "tx", "type": "quantitative", "axis": {"values": [0,1,2,3,4,5,6,7,8,9,10,11,12,13,14,15,16,17,18,19,20,21,22,23], "title": null, "labelOverlap": false}},
     "y": {"field": "ty", "type": "quantitative", "axis": {"values": [-20,-10,0,10,20], "title": "Acceleration, in g", "titleAngle": 0, "titleX": 0, "titleY": -4, "titleAlign": "left", "titleBaseline": "bottom"}},
     "text": {"field": "txt"}}},
   {"data": {"name": "tagA"}, "mark": {"type": "text", "fontSize": 6.5, "color": "#444", "align": "right", "baseline": "bottom", "dx": -4, "dy": -3, "clip": false},
    "encoding": {
     "x": {"field": "tx", "type": "quantitative", "axis": {"values": [0,1,2,3,4,5,6,7,8,9,10,11,12,13,14,15,16,17,18,19,20,21,22,23], "title": null, "labelOverlap": false}},
     "y": {"field": "ty", "type": "quantitative", "axis": {"values": [-20,-10,0,10,20], "title": "Acceleration, in g", "titleAngle": 0, "titleX": 0, "titleY": -4, "titleAlign": "left", "titleBaseline": "bottom"}},
     "text": {"field": "txt"}}}
  ]
 },
 {
  "width": 439, "height": 73,
  "title": {"text": "(b)"},
  "data": {"name": "evL"},
  "mark": {"type": "rule", "strokeWidth": 6, "strokeCap": "butt"},
  "encoding": {
   "x": {"field": "a", "type": "quantitative", "scale": {"domain": [0,24], "nice": false}, "axis": {"values": [0,1,2,3,4,5,6,7,8,9,10,11,12,13,14,15,16,17,18,19,20,21,22,23], "title": "Time, in hour", "titleAnchor": "end", "titlePadding": 1, "labelOverlap": false}},
   "x2": {"field": "b"},
   "y": {"field": "r", "type": "nominal", "scale": {"type": "point", "domain": ["HA","MA"," ","L1","L2","La"], "padding": 0.95}, "axis": {"values": ["HA","MA","L1","L2","La"], "title": "Active / Passive", "titleAngle": 0, "titleX": 0, "titleY": -4, "titleAlign": "left", "titleBaseline": "bottom"}},
   "color": {"field": "r", "type": "nominal", "scale": {"domain": ["HA","MA","L1","L2","La"], "range": ["#ee3333","#f5a830","#a8d8ea","#1f2a8c","#33dd33"]}, "legend": null}
  }
 },
 {
  "width": 439, "height": 73,
  "title": {"text": "(b)"},
  "data": {"name": "evR"},
  "mark": {"type": "rule", "strokeWidth": 6, "strokeCap": "butt"},
  "encoding": {
   "x": {"field": "a", "type": "quantitative", "scale": {"domain": [0,24], "nice": false}, "axis": {"values": [0,1,2,3,4,5,6,7,8,9,10,11,12,13,14,15,16,17,18,19,20,21,22,23], "title": "Time, in hour", "titleAnchor": "end", "titlePadding": 1, "labelOverlap": false}},
   "x2": {"field": "b"},
   "y": {"field": "r", "type": "nominal", "scale": {"type": "point", "domain": ["HA","MA"," ","L1","L2","La"], "padding": 0.95}, "axis": {"values": ["HA","MA","L1","L2","La"], "title": "Active / Passive", "titleAngle": 0, "titleX": 0, "titleY": -4, "titleAlign": "left", "titleBaseline": "bottom"}},
   "color": {"field": "r", "type": "nominal", "scale": {"domain": ["HA","MA","L1","L2","La"], "range": ["#ee3333","#f5a830","#a8d8ea","#1f2a8c","#33dd33"]}, "legend": null}
  }
 }
]
}
